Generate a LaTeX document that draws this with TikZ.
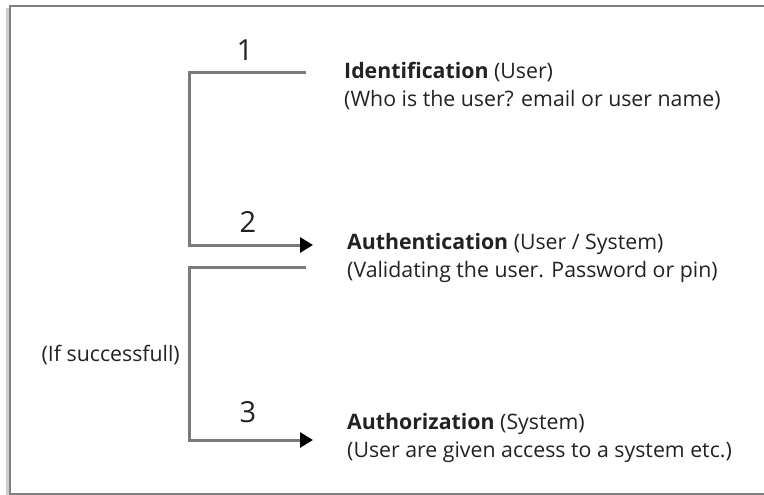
\documentclass[tikz,border=0pt]{standalone}
\usepackage{fontspec}
\setmainfont{Open Sans}
\usetikzlibrary{arrows.meta}
\definecolor{linegray}{HTML}{7A7A7A}
\definecolor{framegray}{HTML}{808080}
\definecolor{txt}{HTML}{222222}
\tikzset{
  conn/.style={draw=linegray, line width=3pt},
  arr/.style={conn, -{Triangle[length=13pt,width=15pt,fill=black,color=black]}},
  desc/.style={anchor=west, inner sep=0pt, align=left, font=\fontsize{21.3}{28}\selectfont, text=txt},
  num/.style={inner sep=0pt, font=\fontsize{29}{29}\selectfont, text=txt},
}
\begin{document}
\begin{tikzpicture}[x=1pt,y=-1pt]
\useasboundingbox[fill=white] (0,0) rectangle (764,495);
\draw[framegray!40, line width=3pt] (7,8) -- (7,495);
\draw[framegray, line width=2pt] (764,6) -- (10,6) -- (10,494) -- (764,494);

\node[desc] (ident) at (344,86) {\textbf{Identification} (User)\\(Who is the user? email or user name)};
\node[desc] (authn) at (347,258) {\textbf{Authentication} (User / System)\\(Validating the user. Password or pin)};
\node[desc] (authz) at (347,438) {\textbf{Authorization} (System)\\(User are given access to a system etc.)};

\coordinate (s1) at (306,73);
\coordinate (t2) at (313,245);
\coordinate (s2) at (306,267);
\coordinate (t3) at (313,440);

\draw[arr] (s1) -- (189,73) -- (189,245) -- (t2);
\draw[arr] (s2) -- (189,267) -- (189,440) -- (t3);

\node[num] (n1) at (245,50) {1};
\node[num] (n2) at (248,222) {2};
\node[num] (n3) at (248,412) {3};
\node[desc, anchor=east] (succ) at (180,355) {(If successfull)};
\end{tikzpicture}
\end{document}
